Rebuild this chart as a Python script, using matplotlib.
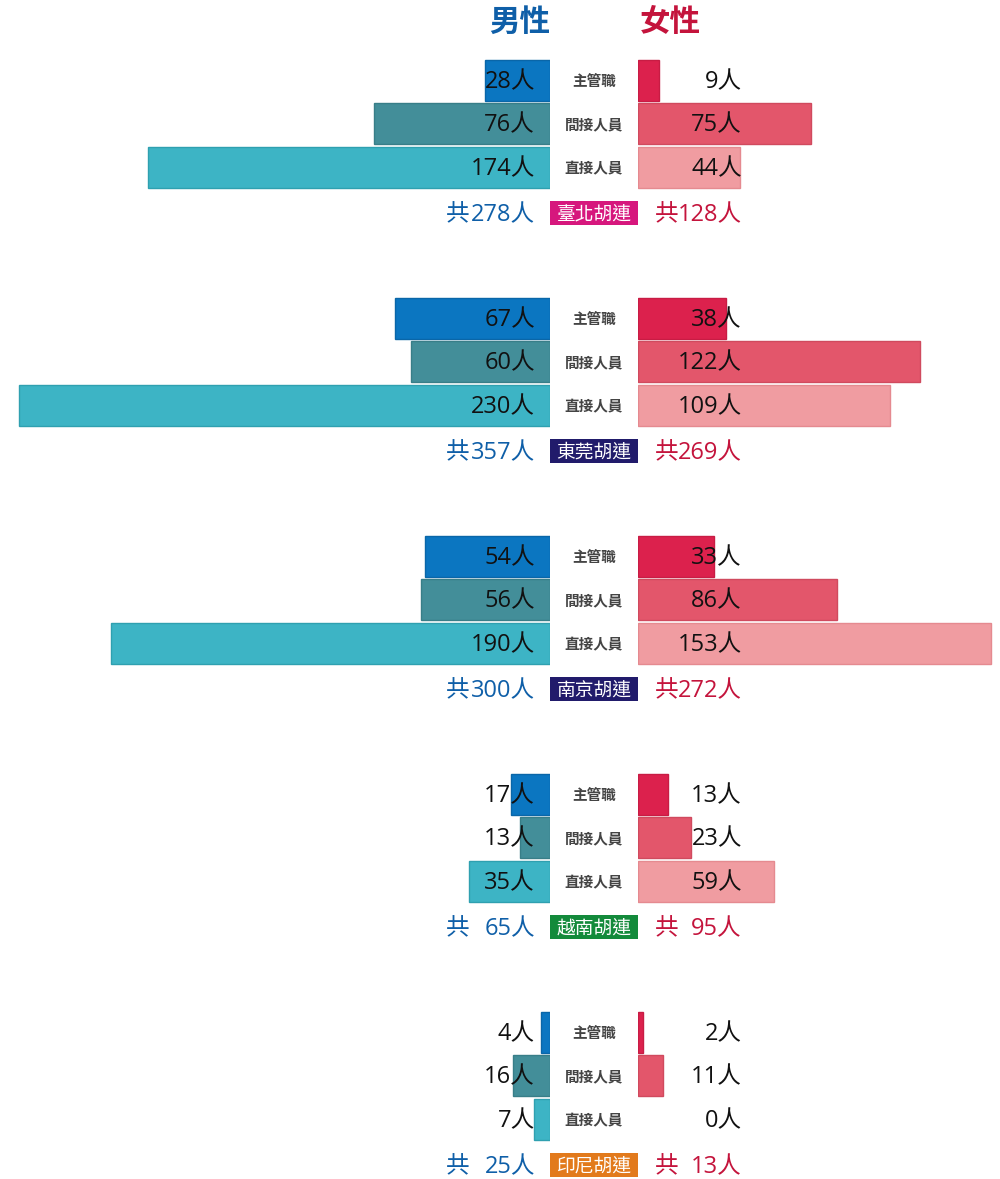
import matplotlib
matplotlib.use("Agg")
import matplotlib.pyplot as plt
from matplotlib.patches import Rectangle

plt.rcParams['font.family'] = ['Noto Sans CJK TC', 'DejaVu Sans']
NUM_FONT = ['Open Sans', 'Noto Sans CJK TC']

sites = ['臺北胡連', '東莞胡連', '南京胡連', '越南胡連', '印尼胡連']
roles = ['主管職', '間接人員', '直接人員']
male = [[28, 76, 174], [67, 60, 230], [54, 56, 190], [17, 13, 35], [4, 16, 7]]
female = [[9, 75, 44], [38, 122, 109], [33, 86, 153], [13, 23, 59], [2, 11, 0]]
male_total = [278, 357, 300, 65, 25]
female_total = [128, 269, 272, 95, 13]

male_colors = ['#0B76C1', '#438E99', '#3DB4C5']
female_colors = ['#DC214D', '#E3566B', '#F09CA1']
male_edges = ['#0A66A8', '#387E88', '#2FA0B0']
female_edges = ['#C81C44', '#D04A5E', '#E58A90']
site_colors = ['#D6177D', '#211B6B', '#211B6B', '#138A3B', '#E27A1C']
blue_txt = '#0F5FA8'
red_txt = '#C4143C'

W, H = 1000, 1179
SCALE = 2.31  # px per person
fig = plt.figure(figsize=(W / 100, H / 100), dpi=100)

ax_m = fig.add_axes([0, 0, 550 / W, 1])
ax_f = fig.add_axes([638 / W, 0, (W - 638) / W, 1])
ax_t = fig.add_axes([0, 0, 1, 1])
for a in (ax_m, ax_f, ax_t):
    a.axis('off')
    a.set_ylim(H, 0)
ax_m.set_xlim(550 / SCALE, 0)
ax_f.set_xlim(0, (W - 638) / SCALE)
ax_t.set_xlim(0, W)

row_off = [80, 123.5, 167]
group_step = 238
bar_h = 41
dy = 2

for g in range(len(sites)):
    base = g * group_step
    ys = [base + r for r in row_off]
    ax_m.barh(ys, male[g], height=bar_h, color=male_colors, edgecolor=male_edges,
              linewidth=[1 if v > 0 else 0 for v in male[g]])
    ax_f.barh(ys, female[g], height=bar_h, color=female_colors, edgecolor=female_edges,
              linewidth=[1 if v > 0 else 0 for v in female[g]])
    for i, y in enumerate(ys):
        ax_t.text(535, y + dy, f'{male[g][i]}人', ha='right', va='center', fontsize=17,
                  color='#111111', family=NUM_FONT)
        ax_t.text(742, y + dy, f'{female[g][i]}人', ha='right', va='center', fontsize=17,
                  color='#111111', family=NUM_FONT)
        ax_t.text(594, y + 1, roles[i], ha='center', va='center', fontsize=10.5,
                  fontweight='bold', color='#444444')
    ty = base + 213
    ax_t.text(446, ty + dy, '共', ha='left', va='center', fontsize=17, color=blue_txt, family=NUM_FONT)
    ax_t.text(535, ty + dy, f'{male_total[g]}人', ha='right', va='center', fontsize=17,
              color=blue_txt, family=NUM_FONT)
    ax_t.text(655, ty + dy, '共', ha='left', va='center', fontsize=17, color=red_txt, family=NUM_FONT)
    ax_t.text(742, ty + dy, f'{female_total[g]}人', ha='right', va='center', fontsize=17,
              color=red_txt, family=NUM_FONT)
    ax_t.add_patch(Rectangle((550, ty - 12), 88, 24, facecolor=site_colors[g], edgecolor='none'))
    ax_t.text(594, ty + 1, sites[g], ha='center', va='center', fontsize=13.5,
              fontweight='medium', color='white')

ax_t.text(520, 22, '男性', ha='center', va='center', fontsize=22, fontweight='bold', color=blue_txt)
ax_t.text(670, 22, '女性', ha='center', va='center', fontsize=22, fontweight='bold', color=red_txt)

fig.savefig('out.png', dpi=100)
